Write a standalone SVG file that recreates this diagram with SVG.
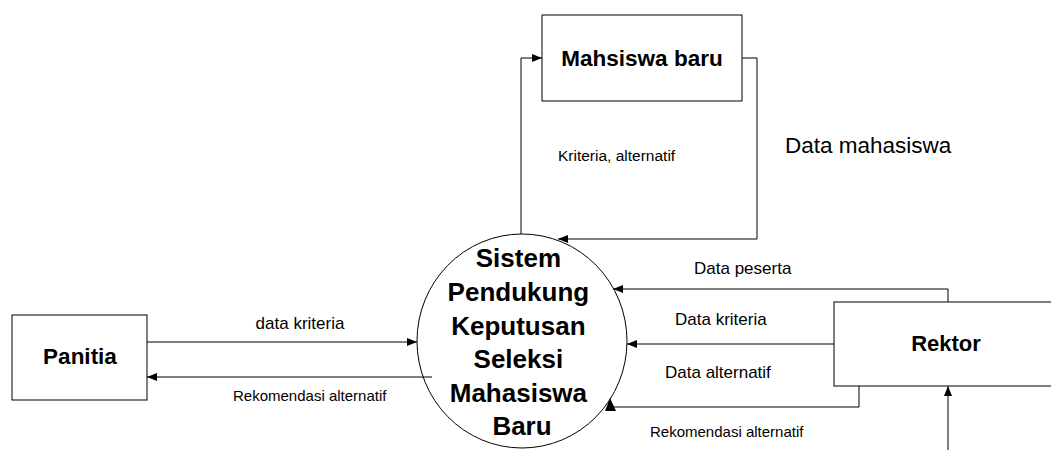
<svg xmlns="http://www.w3.org/2000/svg" width="1051" height="450" viewBox="0 0 1051 450">
<defs>
<style>
.box{fill:#fff;stroke:#000;stroke-width:1}
.ln{fill:none;stroke:#000;stroke-width:1}
.t{font-family:"Liberation Sans",Arial,sans-serif;fill:#000}
.b{font-weight:bold}
</style>
<marker id="ah" viewBox="0 0 10 10" refX="10" refY="5" markerWidth="10" markerHeight="10" markerUnits="userSpaceOnUse" orient="auto">
<path d="M0,1 L10,5 L0,9 Z" fill="#000"/>
</marker>
</defs>
<rect width="1051" height="450" fill="#fff"/>
<g id="connectors">
<polyline class="ln" points="521,234 521,58 542,58" marker-end="url(#ah)"/>
<polyline class="ln" points="742,58 757,58 757,239 558,239" marker-end="url(#ah)"/>
<line class="ln" x1="147" y1="342" x2="417" y2="342" marker-end="url(#ah)"/>
<line class="ln" x1="432" y1="377" x2="147" y2="377" marker-end="url(#ah)"/>
<polyline class="ln" points="948,302 948,289 613,289" marker-end="url(#ah)"/>
<line class="ln" x1="834" y1="344" x2="627" y2="344" marker-end="url(#ah)"/>
<polyline class="ln" points="859,386 859,407 611,407"/>
<polygon points="610,398 605,411 616,411" fill="#000"/>
<line class="ln" x1="948" y1="450" x2="948" y2="386" marker-end="url(#ah)"/>
<text class="t" x="558" y="161" font-size="15.5">Kriteria, alternatif</text>
<text class="t" x="785" y="153" font-size="22.5">Data mahasiswa</text>
<text class="t" x="300" y="329" font-size="17" text-anchor="middle">data kriteria</text>
<text class="t" x="233" y="401" font-size="15">Rekomendasi alternatif</text>
<text class="t" x="694" y="274" font-size="17">Data peserta</text>
<text class="t" x="675" y="325" font-size="17">Data kriteria</text>
<text class="t" x="665" y="378" font-size="17">Data alternatif</text>
<text class="t" x="650" y="437" font-size="15">Rekomendasi alternatif</text>
</g>
<g id="mahasiswa-baru">
<rect class="box" x="542" y="15" width="200" height="86"/>
<text class="t b" x="642" y="66" font-size="22.5" text-anchor="middle">Mahsiswa baru</text>
</g>
<g id="panitia">
<rect class="box" x="12" y="315" width="135" height="85"/>
<text class="t b" x="80" y="364" font-size="22.5" text-anchor="middle">Panitia</text>
</g>
<g id="rektor">
<rect class="box" x="834" y="302" width="225" height="84"/>
<text class="t b" x="946" y="351" font-size="22" text-anchor="middle">Rektor</text>
</g>
<g id="sistem">
<ellipse cx="522" cy="341" rx="105" ry="107" fill="none" stroke="#000" stroke-width="1"/>
<text class="t b" font-size="26" text-anchor="middle">
<tspan x="522" y="267">Sistem</tspan>
<tspan x="522" y="301">Pendukung</tspan>
<tspan x="522" y="335">Keputusan</tspan>
<tspan x="522" y="368">Seleksi</tspan>
<tspan x="522" y="402">Mahasiswa</tspan>
<tspan x="522" y="435">Baru</tspan>
</text>
</g>
</svg>
